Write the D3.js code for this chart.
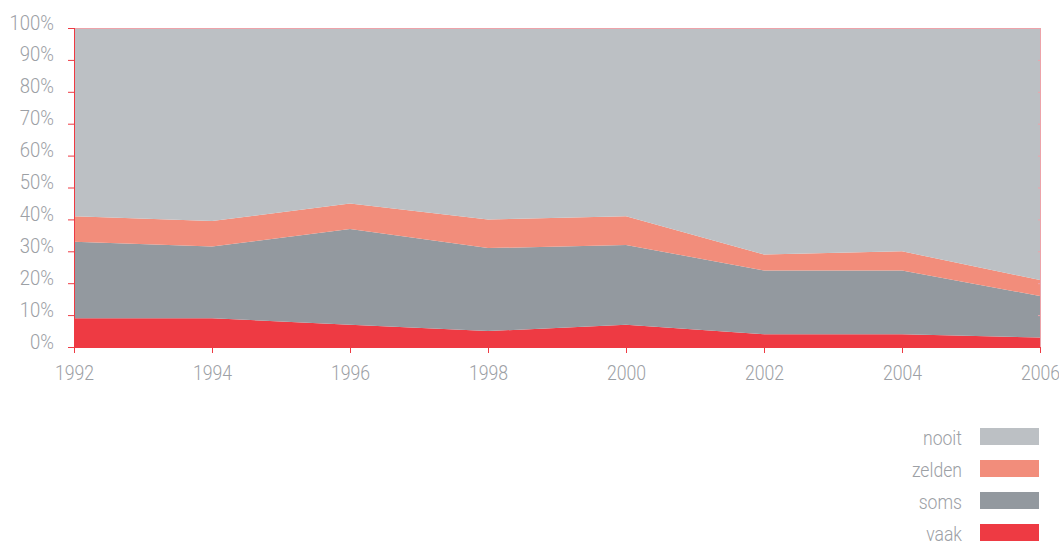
<!DOCTYPE html>
<html><head><meta charset="utf-8">
<script src="https://cdn.jsdelivr.net/npm/d3@7"></script>
<style>
html,body{margin:0;padding:0;background:#fff;}
svg text{font-family:Roboto,"Noto Sans",sans-serif;font-weight:300;fill:#9ca0a5;}
</style></head>
<body>
<svg id="chart" width="1059" height="541"></svg>
<script>
const years = [1992, 1994, 1996, 1998, 2000, 2002, 2004, 2006];
const vaak   = [9, 9, 7, 5, 7, 4, 4, 3];
const soms   = [24, 22.5, 30, 26, 25, 20, 20, 13];
const zelden = [8, 8, 8, 9, 9, 5, 6, 5];
const nooit  = [59, 60.5, 55, 60, 59, 71, 70, 79];
const seriesNames = ["vaak", "soms", "zelden", "nooit"];
const colors = {vaak:"#ee3a43", soms:"#93999f", zelden:"#f28d7b", nooit:"#bcc0c4"};
const yTicks = [0,10,20,30,40,50,60,70,80,90,100];
const legendOrder = ["nooit", "zelden", "soms", "vaak"];
const textColor = "#9ca0a5";

const rows = years.map((y,i)=>({year:y, vaak:vaak[i], soms:soms[i], zelden:zelden[i], nooit:nooit[i]}));
const svg = d3.select("#chart");
const M = {left:74, right:1040, top:28, bottom:347};
const x = d3.scaleLinear().domain([1992,2006]).range([M.left, M.right]);
const y = d3.scaleLinear().domain([0,100]).range([M.bottom, M.top]);

const stack = d3.stack().keys(seriesNames);
const layers = stack(rows);
const area = d3.area().x(d=>x(d.data.year)).y0(d=>y(d[0])).y1(d=>y(d[1]));
svg.append("g").selectAll("path").data(layers).join("path")
  .attr("d", area).attr("fill", d=>colors[d.key]);

// frame top/right faint
svg.append("line").attr("x1",M.left).attr("x2",M.right).attr("y1",M.top+0.5).attr("y2",M.top+0.5)
  .attr("stroke","#eda3aa").attr("stroke-width",1);
const yr = svg.append("g").attr("transform",`translate(${M.right},0)`)
  .call(d3.axisRight(y).tickValues(yTicks).tickSize(-2).tickFormat(""));
yr.selectAll("path,line").attr("stroke","#eda3aa");
yr.select("path").attr("d",`M0.5,${M.top}V${M.bottom}`);

const condense = (sel, f) => sel.each(function(){
  const w = this.getComputedTextLength();
  d3.select(this).attr("textLength", w*f).attr("lengthAdjust","spacingAndGlyphs");
});

// y axis
const ya = svg.append("g").attr("transform",`translate(${M.left},0)`)
  .call(d3.axisLeft(y).tickValues(yTicks).tickSize(6).tickPadding(14).tickFormat(d=>d+"%"));
ya.select("path").attr("stroke","#ee3a43").attr("d",`M0.5,${M.top}V${M.bottom+6}`);
ya.selectAll(".tick line").attr("stroke","#ee3a43");
ya.selectAll("text").attr("font-size",21).attr("dy","0.05em").style("fill",textColor)
  .call(condense, 0.88);

// x axis
const xa = svg.append("g").attr("transform",`translate(0,${M.bottom})`)
  .call(d3.axisBottom(x).tickValues(years).tickSize(6).tickPadding(12).tickFormat(d3.format("d")));
xa.select("path").attr("stroke","#ee3a43").attr("d",`M${M.left},0.5H${M.right}`);
xa.selectAll(".tick line").attr("stroke","#ee3a43");
xa.selectAll("text").attr("font-size",21).style("fill",textColor).call(condense, 0.84);

// legend
const lg = svg.append("g");
legendOrder.forEach((k,i)=>{
  const yy = 428 + i*32;
  lg.append("rect").attr("x",980).attr("y",yy).attr("width",59).attr("height",17).attr("fill",colors[k]);
  lg.append("text").attr("x",962).attr("y",yy+17).attr("text-anchor","end")
    .attr("font-size",20).style("fill",textColor).text(k);
});
lg.selectAll("text").call(condense, 0.88);
</script>
</body></html>
